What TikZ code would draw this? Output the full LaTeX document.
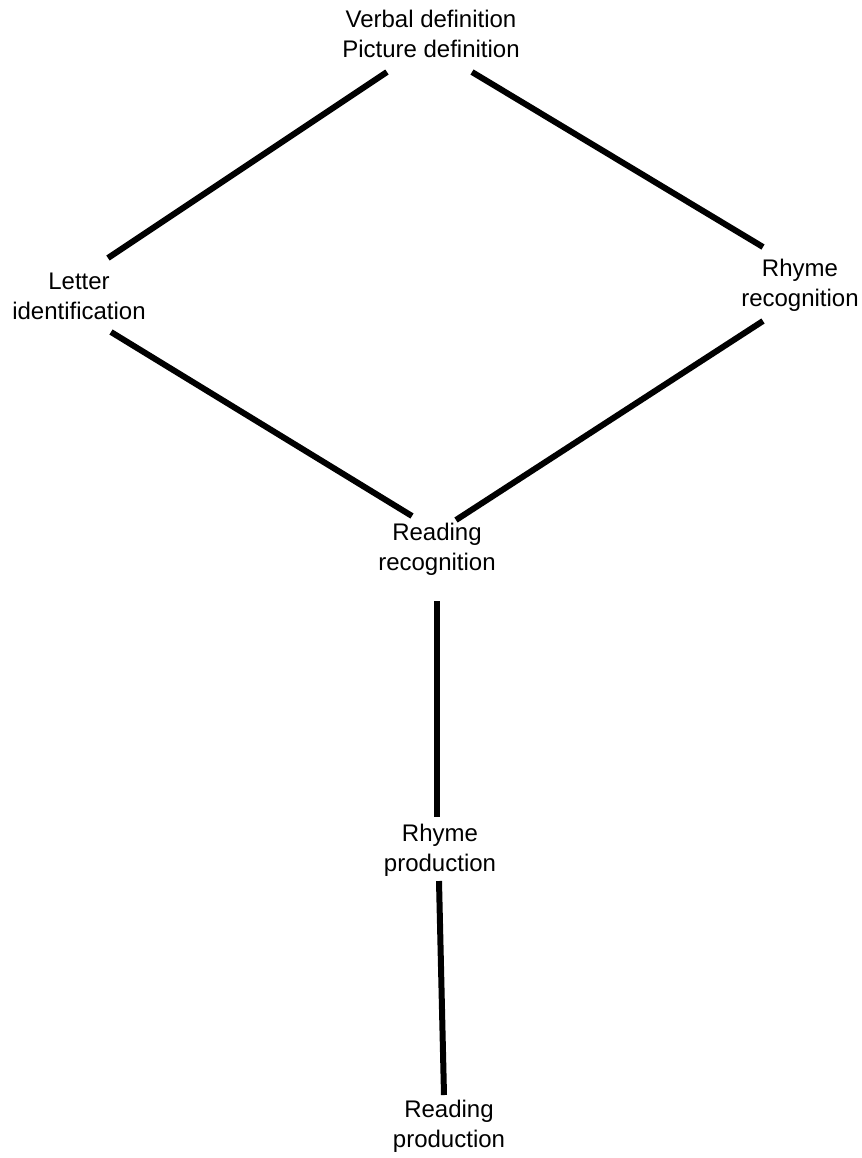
\documentclass[tikz,border=0pt]{standalone}
\usepackage{fontspec}
\setmainfont{Liberation Sans}
\usetikzlibrary{calc}
\tikzset{
  lbl/.style={align=center, inner sep=0pt, font=\fontsize{18}{22.5}\selectfont},
  link/.style={line width=4.5pt, line cap=butt, black}
}
\begin{document}
\begin{tikzpicture}[x=0.75pt, y=-0.75pt]
\useasboundingbox[fill=white] (0,0) rectangle (862,1158);
\node[lbl] (vp) at (431,34) {Verbal definition\\Picture definition};
\node[lbl] (lt) at (79,296) {Letter\\identification};
\node[lbl] (rr) at (800,285) {Rhyme\\recognition};
\node[lbl] (rc) at (437,549) {Reading\\recognition};
\node[lbl] (rp) at (440,850) {Rhyme\\production};
\node[lbl] (pr) at (449,1126) {Reading\\production};
\draw[link] ($(lt.center)+(29,-38)$) -- ($(vp.center)+(-44,38)$);
\draw[link] ($(vp.center)+(41,38)$) -- ($(rr.center)+(-37,-38)$);
\draw[link] ($(lt.center)+(32,36)$) -- ($(rc.center)+(-25,-33)$);
\draw[link] ($(rr.center)+(-37,36)$) -- ($(rc.center)+(19,-29)$);
\draw[link] ($(rc.center)+(0,52)$) -- ($(rp.center)+(-3,-33)$);
\draw[link] ($(rp.center)+(-1,31)$) -- ($(pr.center)+(-5,-31)$);
\end{tikzpicture}
\end{document}
